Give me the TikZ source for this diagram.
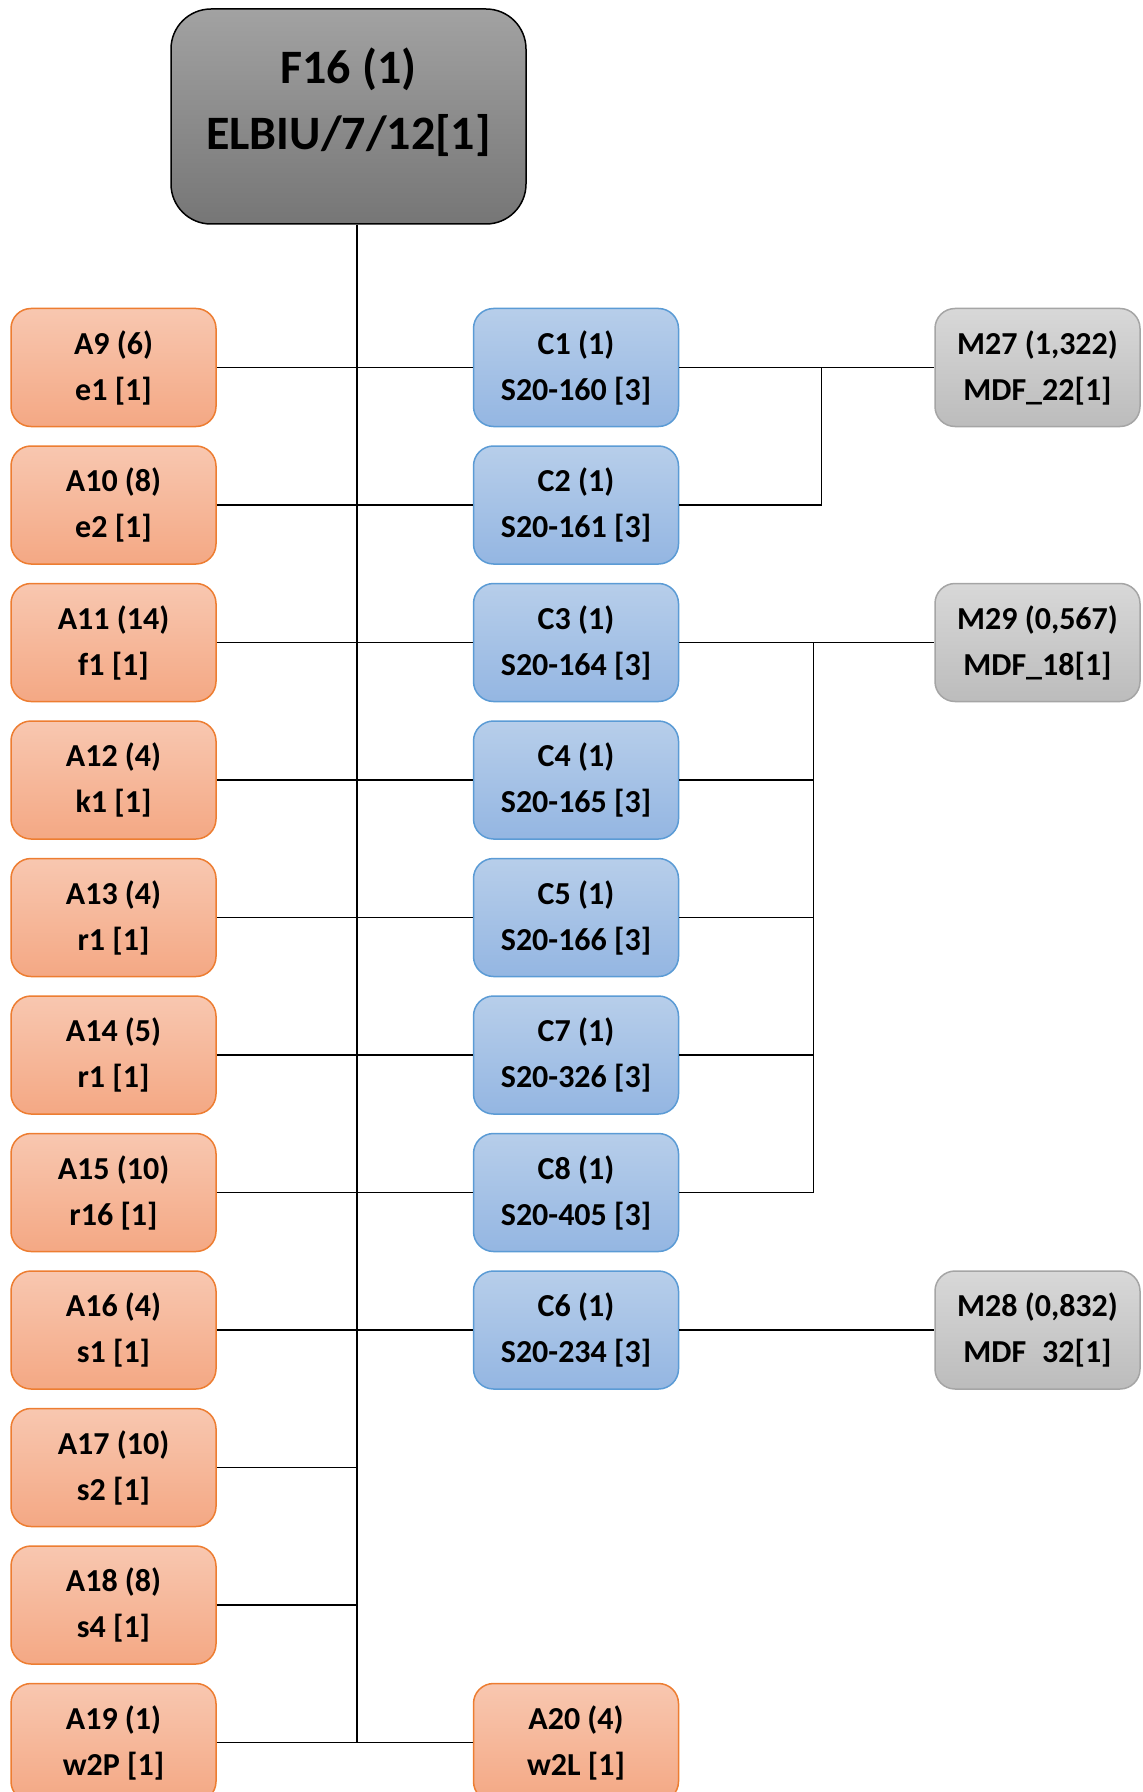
\documentclass[tikz,border=0pt]{standalone}
\usepackage{fontspec}
\setmainfont{Carlito}
\usepackage{xcolor}
\usetikzlibrary{positioning}

% box colours
\definecolor{rootTop}{RGB}{162,162,162}
\definecolor{rootBot}{RGB}{118,118,118}
\definecolor{aTop}{RGB}{248,199,176}
\definecolor{aBot}{RGB}{244,168,132}
\definecolor{aLine}{RGB}{237,125,49}
\definecolor{cTop}{RGB}{183,206,234}
\definecolor{cBot}{RGB}{148,182,226}
\definecolor{cLine}{RGB}{91,155,213}
\definecolor{mTop}{RGB}{216,216,216}
\definecolor{mBot}{RGB}{188,188,188}
\definecolor{mLine}{RGB}{165,165,165}

\tikzset{
    base/.style={rectangle, rounded corners=10pt, line width=0.75pt, align=center, minimum width=102.5pt, minimum height=59pt, inner sep=0pt, font=\fontsize{16pt}{23pt}\selectfont\bfseries},
    rootbox/.style={base, draw=black, top color=rootTop, bottom color=rootBot, rounded corners=20pt, minimum width=177.5pt, minimum height=107.5pt, text depth=18pt, font=\fontsize{24pt}{33pt}\selectfont\bfseries},
    abox/.style={base, draw=aLine, top color=aTop, bottom color=aBot},
    cbox/.style={base, draw=cLine, top color=cTop, bottom color=cBot},
    mbox/.style={base, draw=mLine, top color=mTop, bottom color=mBot},
    link/.style={line width=0.75pt, draw=black}
}

\begin{document}
\begin{tikzpicture}[x=0.5pt, y=-0.5pt, node distance=9pt]
    \useasboundingbox (0,0) rectangle (1142,1792);

    % Root
    \node[rootbox] (f16) at (348.5,116.5) {F16 (1)\\ELBIU/7/12[1]};

    % Left column
    \node[abox] (a9) at (113.5,367.5) {A9 (6)\\e1 [1]};
    \node[abox, below=of a9] (a10) {A10 (8)\\e2 [1]};
    \node[abox, below=of a10] (a11) {A11 (14)\\f1 [1]};
    \node[abox, below=of a11] (a12) {A12 (4)\\k1 [1]};
    \node[abox, below=of a12] (a13) {A13 (4)\\r1 [1]};
    \node[abox, below=of a13] (a14) {A14 (5)\\r1 [1]};
    \node[abox, below=of a14] (a15) {A15 (10)\\r16 [1]};
    \node[abox, below=of a15] (a16) {A16 (4)\\s1 [1]};
    \node[abox, below=of a16] (a17) {A17 (10)\\s2 [1]};
    \node[abox, below=of a17] (a18) {A18 (8)\\s4 [1]};
    \node[abox, below=of a18] (a19) {A19 (1)\\w2P [1]};

    % Middle column
    \node[cbox, right=128pt of a9] (c1) {C1 (1)\\S20-160 [3]};
    \node[cbox, right=128pt of a10] (c2) {C2 (1)\\S20-161 [3]};
    \node[cbox, right=128pt of a11] (c3) {C3 (1)\\S20-164 [3]};
    \node[cbox, right=128pt of a12] (c4) {C4 (1)\\S20-165 [3]};
    \node[cbox, right=128pt of a13] (c5) {C5 (1)\\S20-166 [3]};
    \node[cbox, right=128pt of a14] (c7) {C7 (1)\\S20-326 [3]};
    \node[cbox, right=128pt of a15] (c8) {C8 (1)\\S20-405 [3]};
    \node[cbox, right=128pt of a16] (c6) {C6 (1)\\S20-234 [3]};
    \node[abox, right=128pt of a19] (a20) {A20 (4)\\w2L [1]};

    % Right column
    \node[mbox, right=127.5pt of c1] (m27) {M27 (1,322)\\MDF\_22[1]};
    \node[mbox, right=127.5pt of c3] (m29) {M29 (0,567)\\MDF\_18[1]};
    \node[mbox, right=127.5pt of c6] (m28) {M28 (0,832)\\MDF\phantom{\_}32[1]};

    % Trunk
    \coordinate (trunk) at ([xshift=4.25pt]f16.south);
    \draw[link] (trunk) -- (trunk |- a19.east);
    \foreach \a/\c in {a9/c1, a10/c2, a11/c3, a12/c4, a13/c5, a14/c7, a15/c8, a16/c6, a19/a20}
        \draw[link] (\a.east) -- (\c.west);
    \foreach \a in {a17, a18}
        \draw[link] (\a.east) -- (\a.east -| trunk);

    % Buses to the right
    \coordinate[right=71pt of c1.east] (bus1);
    \coordinate[right=67pt of c3.east] (bus2);
    \draw[link] (c1.east) -- (m27.west);
    \draw[link] (c2.east) -| (bus1);
    \draw[link] (c3.east) -- (m29.west);
    \draw[link] (c8.east) -| (bus2);
    \foreach \c in {c4, c5, c7}
        \draw[link] (\c.east) -- (\c.east -| bus2);
    \draw[link] (c6.east) -- (m28.west);
\end{tikzpicture}
\end{document}
